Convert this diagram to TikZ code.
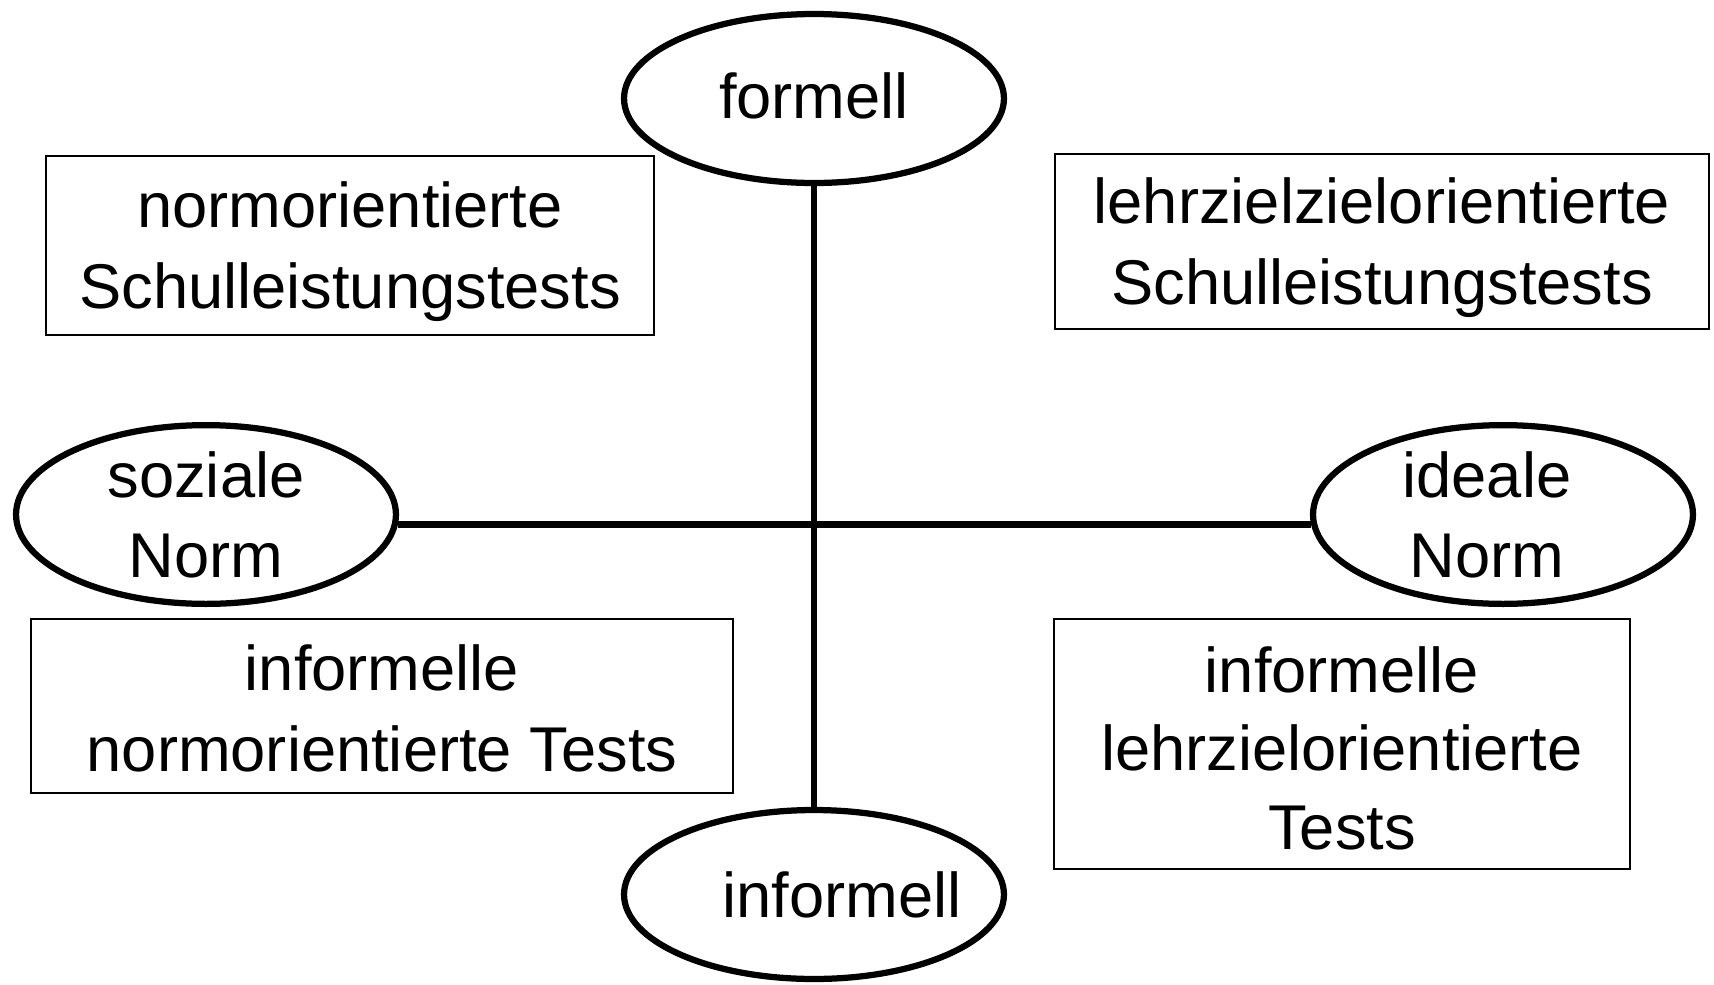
\documentclass[tikz,border=0pt]{standalone}
\usepackage{fontspec}
\setmainfont{Liberation Sans}
\usetikzlibrary{shapes.geometric}
\begin{document}
\begin{tikzpicture}[x=0.02cm,y=-0.02cm,
  ell/.style={ellipse,draw,line width=0.125cm,minimum width=7.6cm,minimum height=3.38cm,inner sep=0pt,align=center,font=\fontsize{36}{45.5}\selectfont},
  tbox/.style={rectangle,draw,line width=0.04cm,inner sep=0pt,align=center,font=\fontsize{36}{46}\selectfont},
  conn/.style={line width=0.125cm}]
\useasboundingbox[fill=white] (0,0) rectangle (1714,984);
\node[ell] (formell) at (814,98.5) {\raisebox{3pt}{formell}};
\node[ell] (informell) at (814,894.5) {\makebox[0pt]{\hspace*{1.12cm}informell}};
\node[ell] (soz) at (206,514.5) {soziale\\Norm};
\node[ell] (ide) at (1503,514.5) {ideale\hspace*{0.64cm}\\Norm\hspace*{0.64cm}};
\node[tbox,minimum width=12.16cm,minimum height=3.6cm] (A) at (350,245.5) {\rule{0pt}{33pt}normorientierte\\Schulleistungstests};
\node[tbox,minimum width=13.1cm,minimum height=3.5cm] (B) at (1382,241.5) {\rule{0pt}{33pt}lehrzielzielorientierte\\Schulleistungstests};
\node[tbox,minimum width=14.06cm,minimum height=3.48cm] (C) at (382,705.6) {\rule{0pt}{29pt}informelle\\normorientierte Tests};
\node[tbox,minimum width=11.52cm,minimum height=5.0cm,font=\fontsize{36}{44.5}\selectfont] (D) at (1342,744) {\rule{0pt}{31pt}informelle\\lehrzielorientierte\\Tests};
\draw[conn] (formell.south) -- (informell.north);
\draw[conn] (soz.-3) -- (ide.183);
\end{tikzpicture}
\end{document}
